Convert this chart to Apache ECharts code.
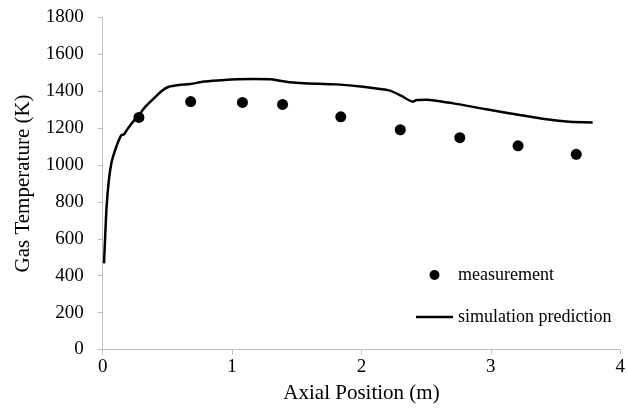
<!DOCTYPE html>
<html>
<head>
<meta charset="utf-8">
<script src="https://cdn.jsdelivr.net/npm/echarts@6/dist/echarts.min.js"></script>
<style>
html,body{margin:0;padding:0;background:#fff;}
#chart{width:628px;height:411px;}
</style>
</head>
<body>
<div id="chart"></div>
<script>
// Simulation prediction (axial position m, gas temperature K)
var simX = [0.01, 0.018, 0.03, 0.048, 0.067, 0.092, 0.125, 0.146, 0.164, 0.19, 0.228, 0.28, 0.33, 0.395, 0.459, 0.511, 0.588, 0.678, 0.781, 0.91, 1.038, 1.167, 1.295, 1.372, 1.449, 1.552, 1.808, 2.013, 2.22, 2.31, 2.395, 2.426, 2.503, 2.709, 2.966, 3.223, 3.429, 3.607, 3.787];
var simY = [467, 593, 774, 919, 1009, 1072, 1135, 1163, 1166, 1193, 1229, 1271, 1316, 1361, 1403, 1424, 1434, 1439, 1452, 1459, 1465, 1466, 1465, 1457, 1448, 1443, 1437, 1424, 1403, 1374, 1343, 1352, 1354, 1334, 1302, 1271, 1248, 1235, 1231];
// Measurements
var measX = [0.28, 0.68, 1.08, 1.39, 1.84, 2.30, 2.76, 3.21, 3.66];
var measY = [1258, 1344, 1339, 1328, 1261, 1191, 1148, 1104, 1058];
var seriesNames = ['measurement', 'simulation prediction'];
var xTitle = 'Axial Position (m)';
var yTitle = 'Gas Temperature (K)';

var FONT = '"Liberation Serif", "Times New Roman", serif';
function zip(a, b) { return a.map(function (v, i) { return [v, b[i]]; }); }

var chart = echarts.init(document.getElementById('chart'), null, {renderer: 'canvas'});
chart.setOption({
  animation: false,
  backgroundColor: '#fff',
  textStyle: {fontFamily: FONT, color: '#000'},
  grid: {left: 102.7, right: 7.3, top: 17.4, bottom: 61.5, containLabel: false},
  legend: {
    orient: 'vertical',
    left: 411,
    top: 261,
    itemWidth: 37,
    itemHeight: 10,
    itemGap: 24,
    textStyle: {fontFamily: FONT, fontSize: 18, color: '#000', lineHeight: 18},
    data: [
      {name: seriesNames[0], icon: 'circle', itemStyle: {color: '#000', opacity: 1}},
      {name: seriesNames[1], icon: 'path://M0,0L37,0L37,2.5L0,2.5Z', itemStyle: {color: '#000', opacity: 1}}
    ]
  },
  xAxis: {
    type: 'value', min: 0, max: 4, interval: 1,
    name: xTitle, nameLocation: 'middle', nameGap: 33,
    nameTextStyle: {fontFamily: FONT, fontSize: 21, color: '#000'},
    axisLine: {show: true, lineStyle: {color: '#bfbfbf', width: 1}},
    axisTick: {show: true, inside: false, length: 5, lineStyle: {color: '#bfbfbf'}},
    axisLabel: {fontFamily: FONT, fontSize: 19, color: '#000', margin: 8},
    splitLine: {show: false}
  },
  yAxis: {
    type: 'value', min: 0, max: 1800, interval: 200,
    name: yTitle, nameLocation: 'middle', nameGap: 69, nameRotate: 90,
    nameTextStyle: {fontFamily: FONT, fontSize: 21, color: '#000'},
    axisLine: {show: true, lineStyle: {color: '#bfbfbf', width: 1}},
    axisTick: {show: true, inside: false, length: 5, lineStyle: {color: '#bfbfbf'}},
    axisLabel: {fontFamily: FONT, fontSize: 19, color: '#000', margin: 19,
      formatter: function (v) { return String(v); }},
    splitLine: {show: false}
  },
  series: [
    {
      name: seriesNames[0], type: 'scatter',
      data: zip(measX, measY),
      symbol: 'circle', symbolSize: 11,
      itemStyle: {color: '#000', opacity: 1}
    },
    {
      name: seriesNames[1], type: 'line',
      data: zip(simX, simY),
      showSymbol: false, symbol: 'none', smooth: 0.2,
      lineStyle: {color: '#000', width: 2.5},
      itemStyle: {color: '#000'}
    }
  ]
});
</script>
</body>
</html>
